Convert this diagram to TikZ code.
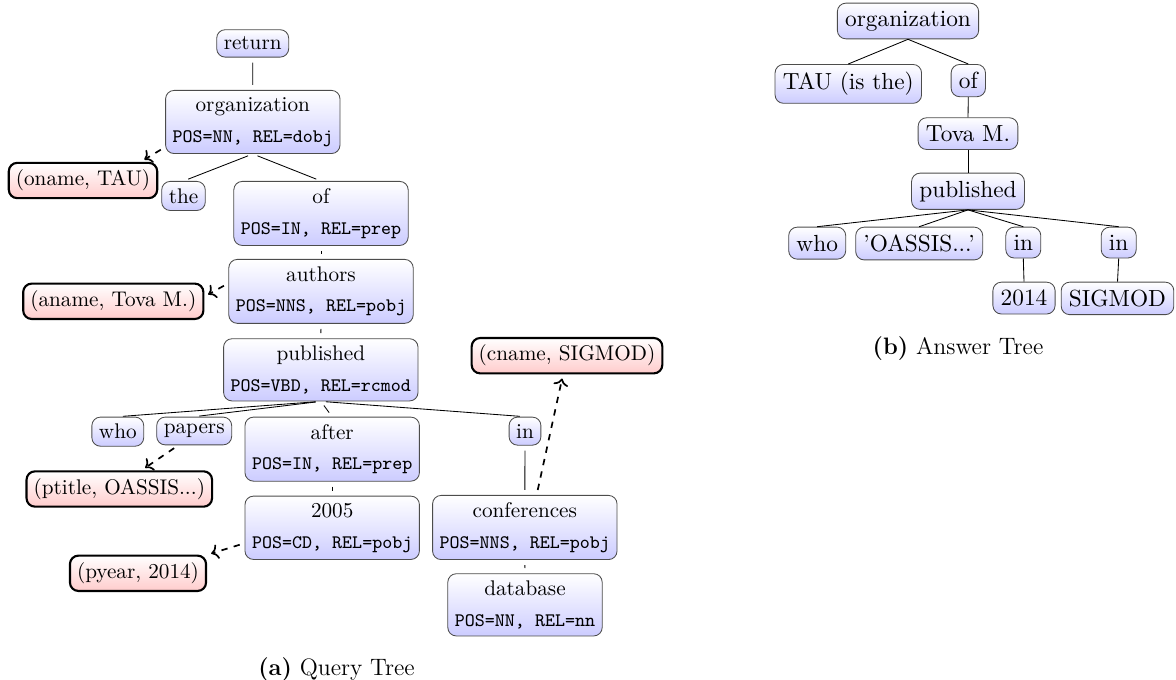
\documentclass[tikz,border=0pt]{standalone}
\usetikzlibrary{arrows}
\usetikzlibrary{arrows.meta}

\begin{document}
\begin{tikzpicture}[x=0.4717pt, y=-0.4717pt,
		qnode/.style={draw=black!70, rounded corners, top color=white, bottom color=blue!20, align=center, anchor=north},
		anode/.style={qnode, scale=1.1},
		attr/.style={draw=black, line width=1pt, rounded corners, top color=white, bottom color=red!20},
		tedge/.style={line width=0.4pt, shorten <=2.4pt, shorten >=2.4pt},
		map/.style={->, dashed, thick, shorten <=2.4pt, shorten >=2pt}]
		\useasboundingbox (0,0) rectangle (1176,680);

		% Query tree
		\node[qnode] (q_ret) at (252.7,29.3) {return};
		\node[qnode] (q_org) at (252.8,90) {organization\\[2.5pt]{\small\ttfamily POS=NN, REL=dobj}};
		\node[qnode] (q_the) at (183.5,181) {the};
		\node[qnode] (q_of) at (321,181) {of\\[2.5pt]{\small\ttfamily POS=IN, REL=prep}};
		\node[qnode] (q_authors) at (321,259) {authors\\[2.5pt]{\small\ttfamily POS=NNS, REL=pobj}};
		\node[qnode] (q_pub) at (320.8,338.3) {published\\[2.5pt]{\small\ttfamily POS=VBD, REL=rcmod}};
		\node[qnode] (q_who) at (117.8,416.7) {who};
		\node[qnode] (q_papers) at (194.2,416.7) {papers};
		\node[qnode] (q_after) at (332.2,416.7) {after\\[2.5pt]{\small\ttfamily POS=IN, REL=prep}};
		\node[qnode] (q_in) at (525,416.7) {in};
		\node[qnode] (q_2005) at (332.2,495.7) {2005\\[2.5pt]{\small\ttfamily POS=CD, REL=pobj}};
		\node[qnode] (q_conf) at (524.8,495) {conferences\\[2.5pt]{\small\ttfamily POS=NNS, REL=pobj}};
		\node[qnode] (q_db) at (525,573.3) {database\\[2.5pt]{\small\ttfamily POS=NN, REL=nn}};

		% Attribute values
		\node[attr] (att_oname) at (83,180.5) {(oname, TAU)};
		\node[attr] (att_aname) at (113.3,301.3) {(aname, Tova M.)};
		\node[attr] (att_ptitle) at (119.3,489) {(ptitle, OASSIS...)};
		\node[attr] (att_pyear) at (138,573.3) {(pyear, 2014)};
		\node[attr] (att_cname) at (567,355.7) {(cname, SIGMOD)};

		% Connections
		\draw[tedge] (q_ret.south) -- (q_org.north);
		\draw[tedge] (q_org.south) -- (q_the.north);
		\draw[tedge] (q_org.south) -- (q_of.north);
		\draw[tedge] (q_of.south) -- (q_authors.north);
		\draw[tedge] (q_authors.south) -- (q_pub.north);
		\draw[tedge] (q_pub.south) -- (q_who.north);
		\draw[tedge] (q_pub.south) -- (q_papers.north);
		\draw[tedge] (q_pub.south) -- (q_after.north);
		\draw[tedge] (q_pub.south) -- (q_in.north);
		\draw[tedge] (q_after.south) -- (q_2005.north);
		\draw[tedge] (q_in.south) -- (q_conf.north);
		\draw[tedge] (q_conf.south) -- (q_db.north);

		\draw[map] (q_org.196) -- (att_oname.18);
		\draw[map] (q_authors.175) -- (att_aname.3);
		\draw[map] (q_papers.222) -- (att_ptitle.40);
		\draw[map] (q_2005.190) -- (att_pyear.15);
		\draw[map] (q_conf.70) -- (att_cname.258);

		% Answer tree
		\node[anode] (a_org) at (908,2.7) {organization};
		\node[anode] (a_tau) at (848.3,64) {TAU (is the)};
		\node[anode] (a_of) at (968.3,64) {of};
		\node[anode] (a_tova) at (968,117.3) {Tova M.};
		\node[anode] (a_pub) at (968,172.7) {published};
		\node[anode] (a_who) at (817.2,226.7) {who};
		\node[anode] (a_oassis) at (919.2,226.7) {'OASSIS...'};
		\node[anode] (a_in1) at (1023.3,226.7) {in};
		\node[anode] (a_in2) at (1118.7,226.7) {in};
		\node[anode] (a_2014) at (1024,281.7) {2014};
		\node[anode] (a_sigmod) at (1117.5,281.7) {SIGMOD};

		\draw (a_org.south) -- (a_tau.north);
		\draw (a_org.south) -- (a_of.north);
		\draw (a_of.south) -- (a_tova.north);
		\draw (a_tova.south) -- (a_pub.north);
		\draw (a_pub.south) -- (a_who.north);
		\draw (a_pub.south) -- (a_oassis.north);
		\draw (a_pub.south) -- (a_in1.north);
		\draw (a_pub.south) -- (a_in2.north);
		\draw (a_in1.south) -- (a_2014.north);
		\draw (a_in2.south) -- (a_sigmod.north);

		% Captions
		\node[anchor=base, font=\fontsize{11.2}{13}\selectfont] (cap_a) at (336.5,675) {\textbf{(a)} Query Tree};
		\node[anchor=base, font=\fontsize{11.2}{13}\selectfont] (cap_b) at (958,355) {\textbf{(b)} Answer Tree};
	\end{tikzpicture}
\end{document}
